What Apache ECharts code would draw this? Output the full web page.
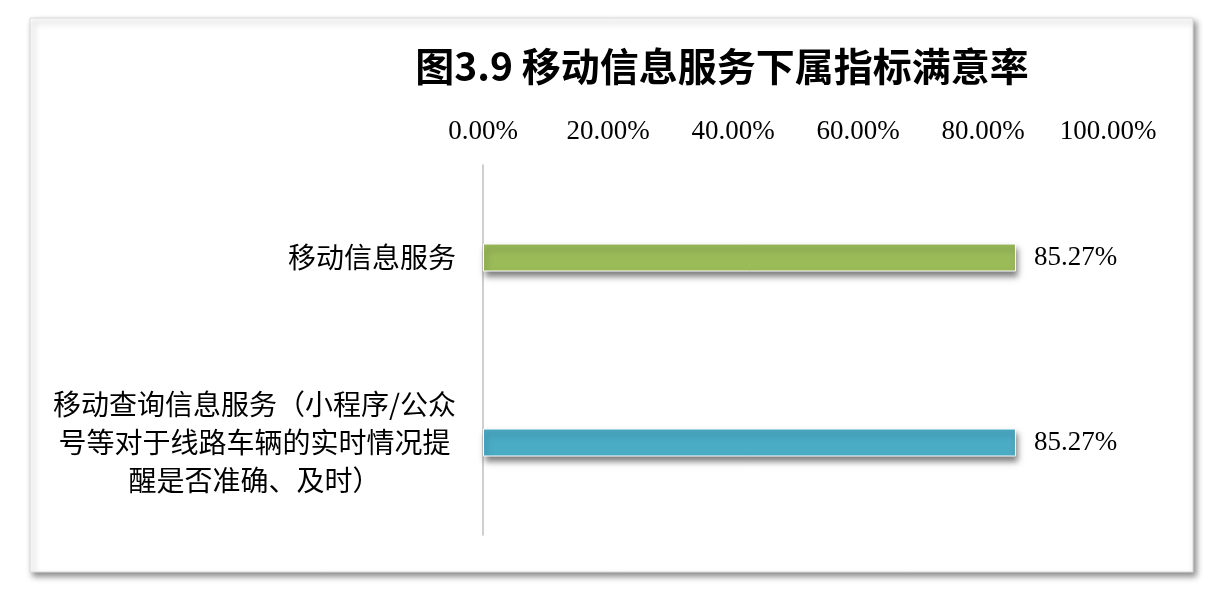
<!DOCTYPE html>
<html>
<head>
<meta charset="utf-8">
<script src="https://cdn.jsdelivr.net/npm/echarts@6/dist/echarts.min.js"></script>
<style>
  html, body { margin: 0; padding: 0; background: #fff; }
  #chart { width: 1216px; height: 596px; }
</style>
</head>
<body>
<div id="chart"></div>
<script>
// 数据
var categories = ["移动信息服务", "移动查询信息服务（小程序/公众\n号等对于线路车辆的实时情况提\n醒是否准确、及时）"];
var values = [85.27, 85.27];
var barColors = ["#9BBB59", "#4BACC6"];
var titleText = "图3.9 移动信息服务下属指标满意率";

var serifFont = "'Liberation Serif', 'Noto Sans CJK SC', serif";

var myChart = echarts.init(document.getElementById("chart"));
var option = {
  animation: false,
  backgroundColor: "#fff",
  graphic: [
    {
      // 外框
      type: "rect",
      z: -10,
      shape: { x: 30, y: 18, width: 1163, height: 554 },
      style: {
        fill: "#fff",
        stroke: "#d9d9d9",
        lineWidth: 1,
        shadowBlur: 6,
        shadowOffsetX: 3,
        shadowOffsetY: 4,
        shadowColor: "rgba(0,0,0,0.45)"
      }
    }
  ],
  title: {
    text: titleText,
    left: 717,
    top: 42,
    textAlign: "center",
    textStyle: {
      fontFamily: "'Noto Sans CJK SC', sans-serif",
      fontWeight: "bold",
      fontSize: 39,
      color: "#000"
    }
  },
  grid: { left: 483, top: 165, width: 625, height: 370 },
  xAxis: {
    type: "value",
    position: "top",
    min: 0,
    max: 100,
    interval: 20,
    axisLine: { show: false },
    axisTick: { show: false },
    splitLine: { show: false },
    axisLabel: {
      margin: 20,
      fontFamily: serifFont,
      fontSize: 27,
      color: "#000",
      formatter: function (v) { return v.toFixed(2) + "%"; }
    }
  },
  yAxis: {
    type: "category",
    inverse: true,
    data: categories,
    axisLine: { show: true, lineStyle: { color: "#bfbfbf", width: 1.5 } },
    axisTick: { show: false },
    axisLabel: {
      margin: 27,
      align: "right",
      lineHeight: 38,
      formatter: function (v) { return "{a|" + v.split("\n").join("}\n{a|") + "}"; },
      rich: {
        a: {
          align: "center",
          fontFamily: "'Noto Sans CJK SC', serif",
          fontSize: 28,
          lineHeight: 38,
          color: "#000"
        }
      }
    }
  },
  series: [
    {
      type: "bar",
      barWidth: 28,
      data: values.map(function (v, i) {
        return { value: v, itemStyle: { color: barColors[i] } };
      }),
      itemStyle: {
        borderColor: "#fff",
        borderWidth: 1,
        shadowBlur: 6,
        shadowOffsetX: 2,
        shadowOffsetY: 5,
        shadowColor: "rgba(0,0,0,0.5)"
      },
      label: {
        show: true,
        position: "right",
        distance: 18,
        fontFamily: serifFont,
        fontSize: 27,
        color: "#000",
        formatter: function (p) { return p.value.toFixed(2) + "%"; }
      }
    }
  ]
};
myChart.setOption(option);
</script>
</body>
</html>
